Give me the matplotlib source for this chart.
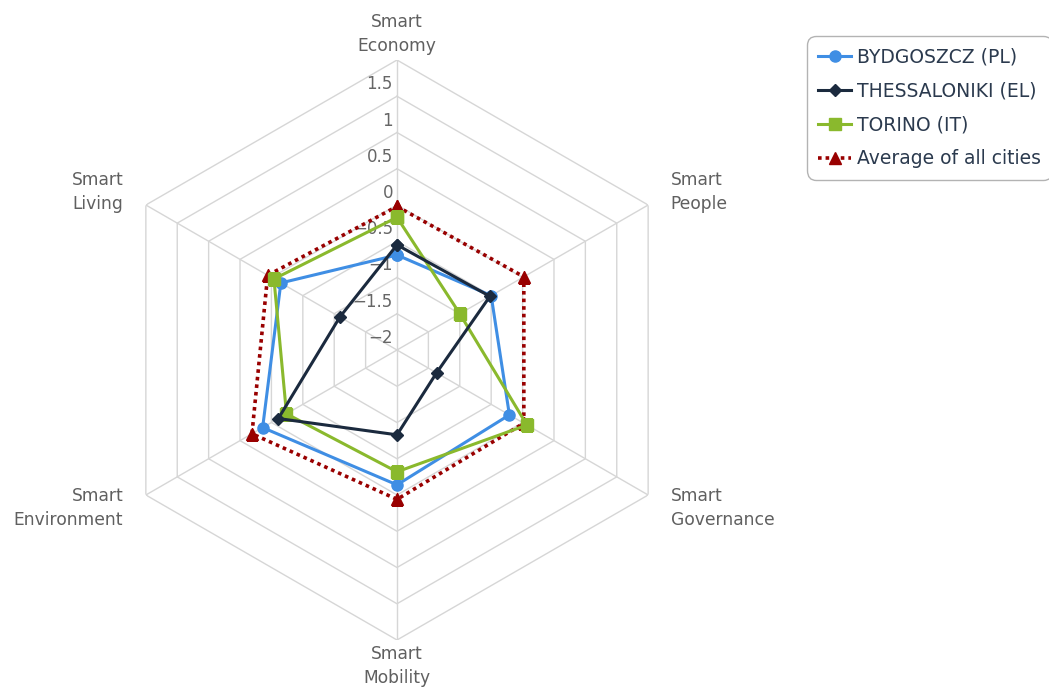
import numpy as np
import matplotlib
matplotlib.use("Agg")
import matplotlib.pyplot as plt

categories = ["Smart\nEconomy", "Smart\nPeople", "Smart\nGovernance",
              "Smart\nMobility", "Smart\nEnvironment", "Smart\nLiving"]
bydgoszcz = [-0.69, -0.50, -0.21, -0.14, 0.14, -0.15]
thessaloniki = [-0.55, -0.52, -1.37, -0.83, -0.11, -1.09]
torino = [-0.17, -1.00, 0.07, -0.32, -0.24, -0.04]
average = [-0.02, 0.02, 0.02, 0.06, 0.31, 0.06]
series_names = ["BYDGOSZCZ (PL)", "THESSALONIKI (EL)", "TORINO (IT)", "Average of all cities"]
r_ticks = [-2, -1.5, -1, -0.5, 0, 0.5, 1, 1.5, 2]
r_tick_labels = ["\u22122", "\u22121.5", "\u22121", "\u22120.5", "0", "0.5", "1", "1.5"]

plt.rcParams['font.family'] = ['DejaVu Sans']

W, H = 1049, 688
fig = plt.figure(figsize=(W / 100, H / 100), dpi=100)
cx, cy, R = 397, 350, 290
ax = fig.add_axes([(cx - R) / W, (H - cy - R) / H, 2 * R / W, 2 * R / H], projection='polar')
ax.set_theta_zero_location('N')
ax.set_theta_direction(-1)
ax.set_ylim(-2, 2)

n = len(categories)
theta = np.arange(n) * 2 * np.pi / n
theta_closed = np.append(theta, theta[0])

def closed(v):
    return np.append(v, v[0])

# grid
ax.yaxis.grid(False)
ax.spines['polar'].set_visible(False)
ax.set_yticklabels([])
ax.set_xticks(theta)
ax.set_xticklabels([])
ax.xaxis.grid(True, color='#d6d6d6', linewidth=1)
ax.set_facecolor('none')
for lvl in r_ticks[1:]:
    ax.plot(theta_closed, [lvl] * (n + 1), color='#d6d6d6', linewidth=1, zorder=1)

# radial tick labels
for lvl, lab in zip(r_ticks, r_tick_labels):
    ax.annotate(lab, xy=(0, lvl), xytext=(-4, 3), textcoords='offset pixels',
                ha='right', va='bottom', fontsize=12, color='#666666', zorder=2)

# category labels
r_lab = 2.36
for t, lab in zip(theta, categories):
    deg = np.degrees(t) % 360
    if deg < 1 or abs(deg - 180) < 1:
        ha = 'center'
    elif deg < 180:
        ha = 'left'
    else:
        ha = 'right'
    ax.text(t, r_lab, lab, ha=ha, va='center', fontsize=12.3, color='#606060',
            linespacing=1.45, multialignment='center' if ha == 'center' else ha)

c_byd = '#3f8ee4'
c_the = '#1b2a3e'
c_tor = '#8ab92d'
c_avg = '#990000'

ax.plot(theta_closed, closed(bydgoszcz), color=c_byd, lw=2.2, marker='o', ms=8,
        label=series_names[0], zorder=5)
ax.plot(theta_closed, closed(thessaloniki), color=c_the, lw=2.2, marker='D', ms=6,
        label=series_names[1], zorder=6)
ax.plot(theta_closed, closed(torino), color=c_tor, lw=2.2, marker='s', ms=8,
        label=series_names[2], zorder=5)
ax.plot(theta_closed, closed(average), color=c_avg, lw=2.6, linestyle=(0, (1, 1.1)),
        marker='^', ms=8, label=series_names[3], zorder=4)

leg = fig.legend(loc='upper left', bbox_to_anchor=(807 / W, 1 - 36 / H),
                 fontsize=13.5, frameon=True, fancybox=True, handlelength=1.75,
                 labelspacing=0.8, borderpad=0.6, handletextpad=0.3,
                 borderaxespad=0, edgecolor='#a0a0a0', labelcolor='#2b3a4e')
leg.get_frame().set_linewidth(1.0)
leg.get_frame().set_boxstyle('round,pad=0.0,rounding_size=0.5')

fig.savefig('out.png', dpi=100)
